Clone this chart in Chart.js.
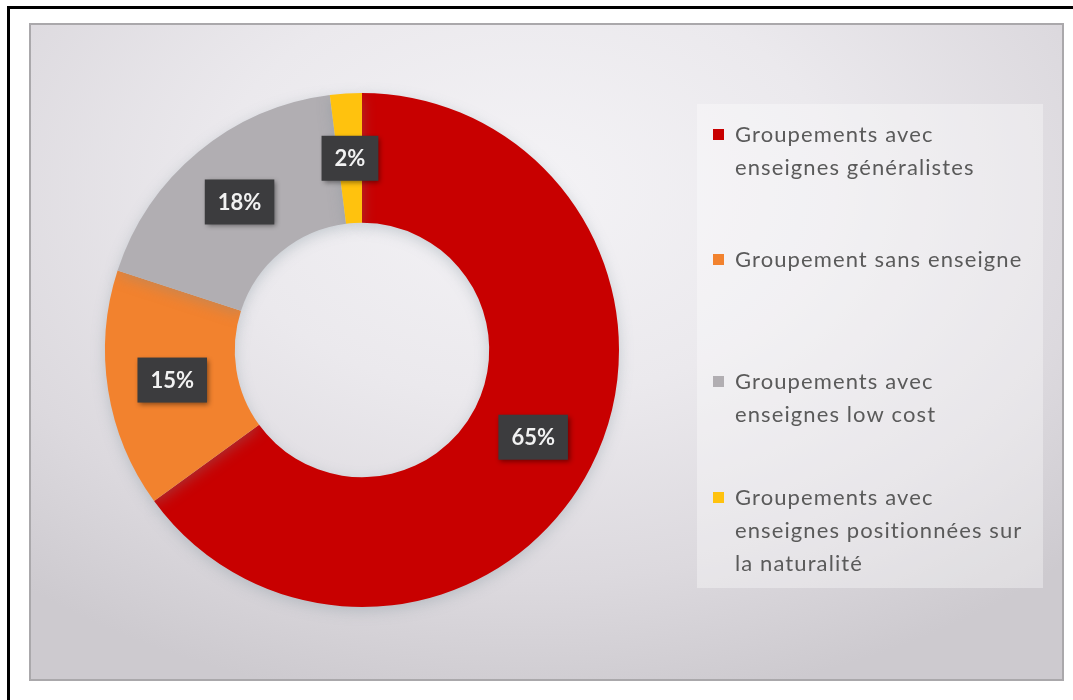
<!DOCTYPE html>
<html>
<head>
<meta charset="utf-8">
<script src="https://cdn.jsdelivr.net/npm/chart.js@4"></script>
<style>
  html, body { margin: 0; padding: 0; background: #ffffff; }
  #page { position: relative; width: 1073px; height: 700px; overflow: hidden; background: #ffffff; }
  #frame { position: absolute; left: 7px; top: 6px; width: 1100px; height: 760px; border: 3px solid #000; box-sizing: border-box; }
  #panel {
    position: absolute; left: 29px; top: 23px; width: 1035px; height: 658px; box-sizing: border-box;
    border: 2px solid #aaa8ab;
    background: radial-gradient(ellipse 75% 80% at 48% 25%, #f4f3f6 0%, #ebe9ed 40%, #dcd9de 75%, #cdcacf 100%);
  }
  #wrap { position: absolute; left: 0; top: 0; width: 1073px; height: 700px; }
</style>
</head>
<body>
<div id="page">
  <div id="frame"></div>
  <div id="panel"></div>
  <div id="wrap"><canvas id="donut"></canvas></div>
</div>
<script>
// categories (legend lines) and values
const categories = [
  ['Groupements avec', 'enseignes généralistes'],
  ['Groupement sans enseigne'],
  ['Groupements avec', 'enseignes low cost'],
  ['Groupements avec', 'enseignes positionnées sur', 'la naturalité']
];
const shares = [65, 15, 18, 2];
const sliceColors = ['#c80000', '#f2822e', '#b1aeb2', '#ffc20e'];

// percentage labels in dark boxes at the middle of each slice
const boxLabels = {
  id: 'boxLabels',
  afterDatasetsDraw(chart) {
    const ctx = chart.ctx;
    const meta = chart.getDatasetMeta(0);
    ctx.save();
    ctx.font = 'bold 22px Lato';
    ctx.textAlign = 'center';
    ctx.textBaseline = 'middle';
    meta.data.forEach((arc, i) => {
      const pos = arc.tooltipPosition();
      const txt = shares[i] + '%';
      const w = ctx.measureText(txt).width + 26;
      const h = 45;
      ctx.shadowColor = 'rgba(0,0,0,0.45)';
      ctx.shadowBlur = 5;
      ctx.shadowOffsetX = 2;
      ctx.shadowOffsetY = 2;
      ctx.fillStyle = '#3c3c3e';
      ctx.fillRect(pos.x - w / 2, pos.y - h / 2, w, h);
      ctx.shadowColor = 'transparent';
      ctx.fillStyle = '#f2f2f2';
      ctx.fillText(txt, pos.x, pos.y + 1);
    });
    ctx.restore();
  }
};

// legend on the right, drawn from the category arrays
const sideLegend = {
  id: 'sideLegend',
  afterDraw(chart) {
    const ctx = chart.ctx;
    const firstLineY = [135, 260, 382, 498];
    const lineH = 33;
    ctx.save();
    ctx.fillStyle = 'rgba(255,255,255,0.35)';
    ctx.fillRect(697, 104, 346, 484);
    ctx.font = '22px Lato';
    ctx.letterSpacing = '1.1px';
    ctx.textBaseline = 'middle';
    categories.forEach((lines, i) => {
      const y0 = firstLineY[i];
      ctx.fillStyle = sliceColors[i];
      ctx.fillRect(713, y0 - 6, 11, 11);
      ctx.fillStyle = '#5a5a5a';
      lines.forEach((line, j) => {
        ctx.fillText(line, 735, y0 + j * lineH);
      });
    });
    ctx.restore();
  }
};

// soft glow under the ring
const ringShadow = {
  id: 'ringShadow',
  beforeDatasetsDraw(chart) {
    const ctx = chart.ctx;
    ctx.save();
    ctx.shadowColor = 'rgba(120,140,150,0.35)';
    ctx.shadowBlur = 14;
    ctx.shadowOffsetY = 4;
  },
  afterDatasetsDraw(chart) {
    chart.ctx.restore();
  }
};

new Chart(document.getElementById('donut'), {
  type: 'doughnut',
  data: {
    labels: categories.map(l => l.join(' ')),
    datasets: [{
      data: shares,
      backgroundColor: sliceColors,
      borderWidth: 0
    }]
  },
  options: {
    responsive: true,
    maintainAspectRatio: false,
    animation: false,
    cutout: '49.5%',
    layout: {
      padding: { top: 93, bottom: 93, left: 105, right: 454 }
    },
    plugins: {
      legend: { display: false },
      tooltip: { enabled: false }
    }
  },
  plugins: [ringShadow, boxLabels, sideLegend]
});
</script>
</body>
</html>
